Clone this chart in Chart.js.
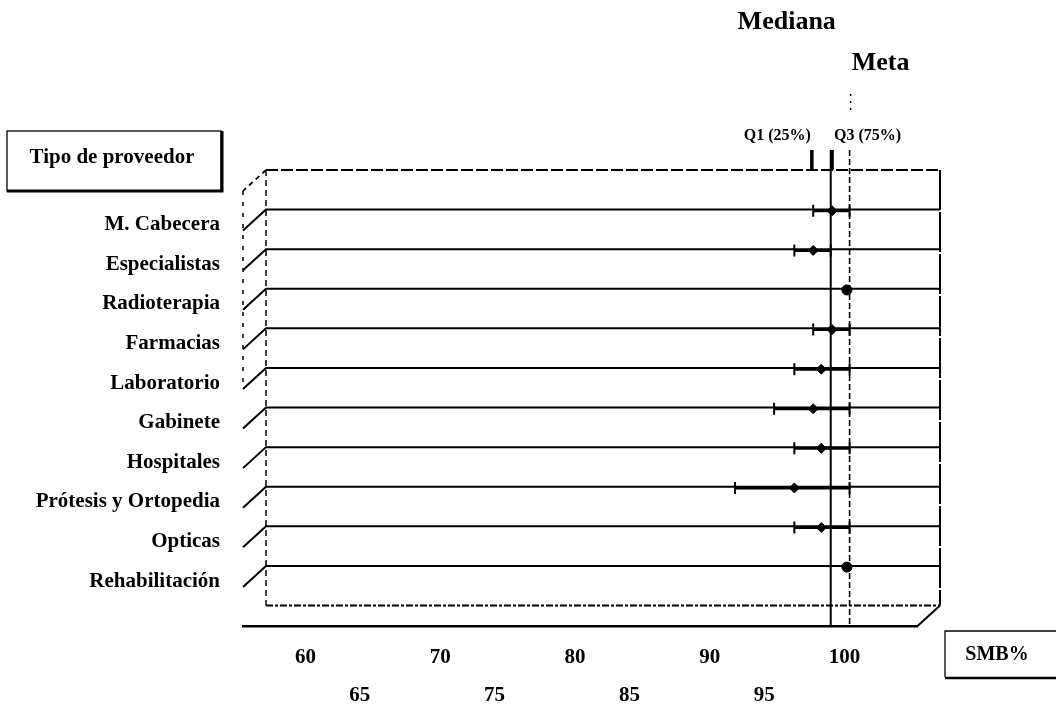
<!DOCTYPE html>
<html>
<head>
<meta charset="utf-8">
<script src="https://cdn.jsdelivr.net/npm/chart.js@4.4.1/dist/chart.umd.min.js"></script>
<style>
  html, body { margin: 0; padding: 0; background: #fff; }
  #wrap { width: 1056px; height: 704px; position: relative; }
</style>
</head>
<body>
<div id="wrap"><canvas id="c" width="1056" height="704"></canvas></div>
<script>
// Provider types, top to bottom
const categories = ['M. Cabecera', 'Especialistas', 'Radioterapia', 'Farmacias', 'Laboratorio',
  'Gabinete', 'Hospitales', 'Prótesis y Ortopedia', 'Opticas', 'Rehabilitación'];
// SMB% per provider type: median and interquartile range
const medianValues = [98.7, 97.3, 99.8, 98.7, 97.9, 97.3, 97.9, 95.9, 97.9, 99.8];
const q1Values     = [97.3, 95.9, 99.8, 97.3, 95.9, 94.4, 95.9, 91.5, 95.9, 99.8];
const q3Values     = [100, 98.6, 99.8, 100, 100, 100, 100, 100, 100, 99.8];
// Axis labels: upper row (tens) and lower row (fives)
const xTicksUpper = [60, 70, 80, 90, 100];
const xTicksLower = [65, 75, 85, 95];
// Reference values across all providers
const overallMedian = 98.6;
const overallQ1 = 97.2;
const overallQ3 = 98.7;
const goal = 100;

const SERIF = "'Liberation Serif', 'Times New Roman', serif";

// Pseudo-3D box: back plane offset from the front plane
const DEPTH_X = 23, DEPTH_Y = -21;

const framePlugin = {
  id: 'frame3d',
  beforeDatasetsDraw(chart) {
    const { ctx, chartArea: a, scales: { x, y } } = chart;
    const frontLine = k => y.getPixelForValue(k - 0.5);   // k = 0 top, 1..10 rows, 11 floor
    const backLine = k => frontLine(k) + DEPTH_Y;
    const bl = a.left + DEPTH_X, br = a.right + DEPTH_X;
    ctx.save();
    ctx.strokeStyle = '#000';
    ctx.lineCap = 'butt';

    // top edge of the back plane
    ctx.lineWidth = 1.8;
    ctx.setLineDash([12, 3]);
    ctx.beginPath(); ctx.moveTo(bl, backLine(0)); ctx.lineTo(br, backLine(0)); ctx.stroke();
    // top-left slant
    ctx.setLineDash([5, 4]);
    ctx.beginPath(); ctx.moveTo(bl, backLine(0)); ctx.lineTo(a.left, frontLine(0)); ctx.stroke();

    // row separators with their left slants
    ctx.setLineDash([]);
    ctx.lineWidth = 2;
    for (let k = 1; k <= categories.length; k++) {
      ctx.beginPath();
      ctx.moveTo(a.left, frontLine(k));
      ctx.lineTo(bl, backLine(k));
      ctx.lineTo(br, backLine(k));
      ctx.stroke();
    }

    // back floor line
    const fl = categories.length + 1;
    ctx.setLineDash([7, 2, 3, 2]);
    ctx.lineWidth = 2;
    ctx.beginPath(); ctx.moveTo(bl, backLine(fl)); ctx.lineTo(br, backLine(fl)); ctx.stroke();

    // right edge and bottom-right slant
    ctx.setLineDash([40, 2]);
    ctx.lineWidth = 2;
    ctx.beginPath(); ctx.moveTo(br, backLine(0)); ctx.lineTo(br, backLine(fl)); ctx.stroke();
    ctx.setLineDash([]);
    ctx.beginPath(); ctx.moveTo(br, backLine(fl)); ctx.lineTo(a.right, frontLine(fl)); ctx.stroke();

    // left edges (dashed)
    ctx.lineWidth = 1.5;
    ctx.setLineDash([6, 4]);
    ctx.beginPath(); ctx.moveTo(bl, backLine(0)); ctx.lineTo(bl, backLine(fl)); ctx.stroke();
    ctx.setLineDash([4, 7]);
    ctx.beginPath(); ctx.moveTo(a.left, frontLine(0)); ctx.lineTo(a.left, frontLine(5)); ctx.stroke();

    // median and goal lines
    const topY = 150;
    const mx = x.getPixelForValue(overallMedian);
    const gx = x.getPixelForValue(goal);
    ctx.setLineDash([]);
    ctx.lineWidth = 2;
    ctx.beginPath(); ctx.moveTo(mx, topY); ctx.lineTo(mx, a.bottom); ctx.stroke();
    ctx.lineWidth = 1.6;
    ctx.setLineDash([6, 3]);
    ctx.beginPath(); ctx.moveTo(gx, topY); ctx.lineTo(gx, a.bottom); ctx.stroke();
    ctx.setLineDash([2, 5]);
    ctx.beginPath(); ctx.moveTo(gx + 1, 94); ctx.lineTo(gx + 1, 110); ctx.stroke();

    // quartile markers
    ctx.setLineDash([]);
    ctx.lineWidth = 3.5;
    [overallQ1, overallQ3].forEach(v => {
      const px = x.getPixelForValue(v);
      ctx.beginPath(); ctx.moveTo(px, topY); ctx.lineTo(px, backLine(0)); ctx.stroke();
    });

    // annotations
    ctx.fillStyle = '#000';
    ctx.textBaseline = 'middle';
    ctx.font = 'bold 26px ' + SERIF;
    ctx.textAlign = 'center';
    ctx.fillText('Mediana', mx - 44, 22);
    ctx.fillText('Meta', gx + 31, 63);
    ctx.font = 'bold 16px ' + SERIF;
    ctx.textAlign = 'right';
    ctx.fillText('Q1 (25%)', x.getPixelForValue(overallQ1) - 1, 136);
    ctx.textAlign = 'left';
    ctx.fillText('Q3 (75%)', x.getPixelForValue(overallQ3) + 2, 136);

    // axis title boxes
    ctx.lineWidth = 1.3;
    ctx.strokeRect(7, 131, 214, 60);
    ctx.lineWidth = 3;
    ctx.beginPath(); ctx.moveTo(7, 191); ctx.lineTo(222, 191); ctx.lineTo(222, 131); ctx.stroke();
    ctx.font = 'bold 21px ' + SERIF;
    ctx.textAlign = 'center';
    ctx.fillText('Tipo de proveedor', 112, 158);

    ctx.lineWidth = 1.3;
    ctx.beginPath(); ctx.moveTo(1060, 631); ctx.lineTo(945, 631); ctx.lineTo(945, 677); ctx.stroke();
    ctx.lineWidth = 2.5;
    ctx.beginPath(); ctx.moveTo(945, 678); ctx.lineTo(1060, 678); ctx.stroke();
    ctx.font = 'bold 20px ' + SERIF;
    ctx.fillText('SMB%', 997, 655);

    ctx.restore();
  }
};

const whiskerSets = categories.map((c, i) => ({
  type: 'line',
  label: c,
  data: [{ x: q1Values[i], y: i }, { x: q3Values[i], y: i }],
  borderColor: '#000',
  borderWidth: 3,
  pointStyle: 'line',
  rotation: 90,
  pointRadius: q1Values[i] === q3Values[i] ? 0 : 6,
  pointBorderWidth: 2,
  pointBorderColor: '#000',
  order: 2
}));

const medianSet = {
  type: 'scatter',
  label: 'Mediana',
  data: medianValues.map((v, i) => ({ x: v, y: i })),
  pointStyle: ctx => (q1Values[ctx.dataIndex] === q3Values[ctx.dataIndex] ? 'circle' : 'rectRot'),
  pointRadius: 5,
  backgroundColor: '#000',
  borderColor: '#000',
  borderWidth: 1,
  order: 1
};

const tickFont = { family: SERIF, weight: 'bold', size: 21 };

new Chart(document.getElementById('c'), {
  type: 'scatter',
  data: { datasets: [medianSet, ...whiskerSets] },
  options: {
    responsive: false,
    animation: false,
    devicePixelRatio: 1,
    layout: { padding: { top: 191, right: 139, left: 0, bottom: 0 } },
    plugins: { legend: { display: false }, tooltip: { enabled: false } },
    scales: {
      x: {
        type: 'linear',
        position: 'bottom',
        weight: 0,
        min: 55,
        max: 105,
        afterBuildTicks: s => { s.ticks = xTicksUpper.map(v => ({ value: v })); },
        afterFit: s => { s.height = 40; },
        ticks: {
          autoSkip: false,
          maxRotation: 0,
          padding: 18,
          labelOffset: -5,
          color: '#000',
          font: tickFont
        },
        grid: { display: false, drawTicks: false },
        border: { display: true, color: '#000', width: 2.5 }
      },
      x2: {
        type: 'linear',
        position: 'bottom',
        weight: 1,
        min: 55,
        max: 105,
        afterBuildTicks: s => { s.ticks = xTicksLower.map(v => ({ value: v })); },
        afterFit: s => { s.height = 37.5; },
        ticks: {
          autoSkip: false,
          maxRotation: 0,
          padding: 16,
          labelOffset: -18,
          color: '#000',
          font: tickFont
        },
        grid: { display: false, drawTicks: false },
        border: { display: false }
      },
      y: {
        type: 'linear',
        min: -0.5,
        max: 10.5,
        reverse: true,
        afterBuildTicks: s => { s.ticks = categories.map((c, i) => ({ value: i })); },
        afterFit: s => { s.width = 243; },
        ticks: {
          autoSkip: false,
          padding: 23,
          labelOffset: 14,
          color: '#000',
          font: tickFont,
          callback: v => categories[v]
        },
        grid: { display: false, drawTicks: false },
        border: { display: false }
      }
    }
  },
  plugins: [framePlugin]
});
</script>
</body>
</html>
